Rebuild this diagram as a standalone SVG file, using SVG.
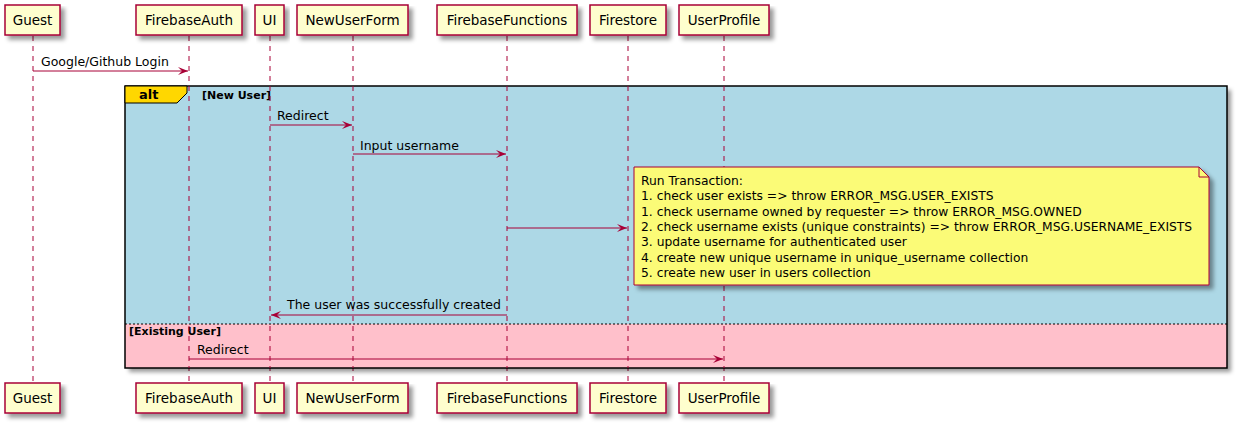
<svg xmlns="http://www.w3.org/2000/svg" width="1240" height="426" viewBox="0 0 1240 426">
<style>
.part{fill:#FEFECE;stroke:#A80036;stroke-width:1.5}
.ptxt{font-family:"DejaVu Sans",sans-serif;font-size:13.5px;fill:#000;text-anchor:middle}
.life{stroke:#A80036;stroke-width:1;stroke-dasharray:5,5}
.msg{stroke:#A80036;stroke-width:1;fill:none;marker-end:url(#arr)}
.mtxt{font-family:"DejaVu Sans",sans-serif;font-size:12.5px;fill:#000}
.ntxt{font-family:"DejaVu Sans",sans-serif;font-size:12.3px;fill:#000}
.btxt{font-family:"DejaVu Sans",sans-serif;font-size:11px;font-weight:bold;fill:#000}
</style>
<defs>
<filter id="sh" x="-10%" y="-10%" width="130%" height="150%">
<feGaussianBlur in="SourceAlpha" stdDeviation="2"/>
<feOffset dx="4" dy="4" result="b"/>
<feColorMatrix in="b" type="matrix" values="0 0 0 0 0  0 0 0 0 0  0 0 0 0 0  0 0 0 0.4 0" result="c"/>
<feMerge><feMergeNode in="c"/><feMergeNode in="SourceGraphic"/></feMerge>
</filter>
<marker id="arr" viewBox="0 0 11 8" refX="10" refY="4" markerWidth="11" markerHeight="8" markerUnits="userSpaceOnUse" orient="auto">
<path d="M0,0 L10,4 L0,8 L4,4 Z" fill="#A80036"/>
</marker>
</defs>

<g id="lifelines">
<line class="life" x1="33" y1="36" x2="33" y2="383"/>
<line class="life" x1="189" y1="36" x2="189" y2="383"/>
<line class="life" x1="270" y1="36" x2="270" y2="383"/>
<line class="life" x1="353" y1="36" x2="353" y2="383"/>
<line class="life" x1="507" y1="36" x2="507" y2="383"/>
<line class="life" x1="628" y1="36" x2="628" y2="383"/>
<line class="life" x1="724" y1="36" x2="724" y2="383"/>
</g>

<g id="alt-frame">
<rect x="125" y="86" width="1102" height="282" fill="#ADD8E6" filter="url(#sh)"/>
<rect x="125" y="324" width="1102" height="44" fill="#FFC0CB"/>
<line x1="125" y1="324" x2="1227" y2="324" stroke="#000" stroke-width="1" stroke-dasharray="2,2"/>
<rect x="125" y="86" width="1102" height="282" fill="none" stroke="#000" stroke-width="1.5"/>
<path d="M125,86 L187,86 L187,93 L177,103 L125,103 Z" fill="#FFD700" stroke="#000" stroke-width="1"/>
<text x="139" y="99" font-family="DejaVu Sans, sans-serif" font-size="13px" font-weight="bold">alt</text>
<text class="btxt" x="202" y="99">[New User]</text>
<text class="btxt" x="129" y="335">[Existing User]</text>
</g>

<g id="lifelines-over">
<line class="life" x1="189" y1="86" x2="189" y2="368"/>
<line class="life" x1="270" y1="86" x2="270" y2="368"/>
<line class="life" x1="353" y1="86" x2="353" y2="368"/>
<line class="life" x1="507" y1="86" x2="507" y2="368"/>
<line class="life" x1="628" y1="86" x2="628" y2="368"/>
<line class="life" x1="724" y1="86" x2="724" y2="368"/>
</g>

<g id="connectors">
<line class="msg" x1="33" y1="71" x2="188" y2="71"/>
<text class="mtxt" x="41" y="66">Google/Github Login</text>
<line class="msg" x1="270" y1="125" x2="352" y2="125"/>
<text class="mtxt" x="277" y="120">Redirect</text>
<line class="msg" x1="353" y1="154" x2="506" y2="154"/>
<text class="mtxt" x="360" y="150">Input username</text>
<line class="msg" x1="507" y1="228" x2="627" y2="228"/>
<line class="msg" x1="507" y1="315" x2="271" y2="315"/>
<text class="mtxt" x="287" y="309">The user was successfully created</text>
<line class="msg" x1="189" y1="359" x2="723" y2="359"/>
<text class="mtxt" x="197" y="354">Redirect</text>
</g>

<g id="note">
<path d="M634,167 L1199,167 L1209,177 L1209,285 L634,285 Z" fill="#FBFB77" stroke="#A80036" stroke-width="1" filter="url(#sh)"/>
<path d="M1199,167 L1199,177 L1209,177" fill="none" stroke="#A80036" stroke-width="1"/>
<text class="ntxt" x="641" y="185">Run Transaction:</text>
<text class="ntxt" x="641" y="200.3">1. check user exists =&gt; throw ERROR_MSG.USER_EXISTS</text>
<text class="ntxt" x="641" y="215.6">1. check username owned by requester =&gt; throw ERROR_MSG.OWNED</text>
<text class="ntxt" x="641" y="230.9">2. check username exists (unique constraints) =&gt; throw ERROR_MSG.USERNAME_EXISTS</text>
<text class="ntxt" x="641" y="246.2">3. update username for authenticated user</text>
<text class="ntxt" x="641" y="261.5">4. create new unique username in unique_username collection</text>
<text class="ntxt" x="641" y="276.8">5. create new user in users collection</text>
</g>

<g id="Guest">
<rect class="part" x="5" y="5" width="55" height="30" filter="url(#sh)"/>
<text class="ptxt" x="32.5" y="25">Guest</text>
<rect class="part" x="5" y="383" width="55" height="30" filter="url(#sh)"/>
<text class="ptxt" x="32.5" y="403">Guest</text>
</g>
<g id="FirebaseAuth">
<rect class="part" x="136" y="5" width="106" height="30" filter="url(#sh)"/>
<text class="ptxt" x="189" y="25">FirebaseAuth</text>
<rect class="part" x="136" y="383" width="106" height="30" filter="url(#sh)"/>
<text class="ptxt" x="189" y="403">FirebaseAuth</text>
</g>
<g id="UI">
<rect class="part" x="255" y="5" width="29" height="30" filter="url(#sh)"/>
<text class="ptxt" x="269.5" y="25">UI</text>
<rect class="part" x="255" y="383" width="29" height="30" filter="url(#sh)"/>
<text class="ptxt" x="269.5" y="403">UI</text>
</g>
<g id="NewUserForm">
<rect class="part" x="297" y="5" width="111" height="30" filter="url(#sh)"/>
<text class="ptxt" x="352.5" y="25">NewUserForm</text>
<rect class="part" x="297" y="383" width="111" height="30" filter="url(#sh)"/>
<text class="ptxt" x="352.5" y="403">NewUserForm</text>
</g>
<g id="FirebaseFunctions">
<rect class="part" x="437" y="5" width="140" height="30" filter="url(#sh)"/>
<text class="ptxt" x="507" y="25">FirebaseFunctions</text>
<rect class="part" x="437" y="383" width="140" height="30" filter="url(#sh)"/>
<text class="ptxt" x="507" y="403">FirebaseFunctions</text>
</g>
<g id="Firestore">
<rect class="part" x="590" y="5" width="76" height="30" filter="url(#sh)"/>
<text class="ptxt" x="628" y="25">Firestore</text>
<rect class="part" x="590" y="383" width="76" height="30" filter="url(#sh)"/>
<text class="ptxt" x="628" y="403">Firestore</text>
</g>
<g id="UserProfile">
<rect class="part" x="679" y="5" width="90" height="30" filter="url(#sh)"/>
<text class="ptxt" x="724" y="25">UserProfile</text>
<rect class="part" x="679" y="383" width="90" height="30" filter="url(#sh)"/>
<text class="ptxt" x="724" y="403">UserProfile</text>
</g>
</svg>
